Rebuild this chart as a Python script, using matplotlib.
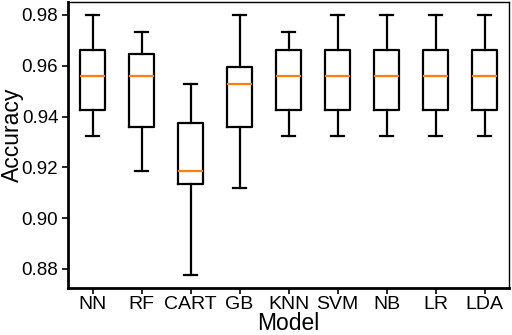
import matplotlib
matplotlib.use("Agg")
import matplotlib.pyplot as plt

plt.rcParams['font.family'] = ['Liberation Sans', 'DejaVu Sans']

models = ["NN", "RF", "CART", "GB", "KNN", "SVM", "NB", "LR", "LDA"]
whislo = [0.9323, 0.9186, 0.8778, 0.9118, 0.9323, 0.9323, 0.9323, 0.9323, 0.9323]
q1     = [0.9425, 0.9358, 0.9136, 0.9358, 0.9425, 0.9425, 0.9425, 0.9425, 0.9425]
med    = [0.9560, 0.9560, 0.9184, 0.9527, 0.9560, 0.9560, 0.9560, 0.9560, 0.9560]
q3     = [0.9663, 0.9647, 0.9374, 0.9595, 0.9663, 0.9663, 0.9663, 0.9663, 0.9663]
whishi = [0.9800, 0.9732, 0.9527, 0.9800, 0.9732, 0.9800, 0.9800, 0.9800, 0.9800]
yticks = [0.88, 0.90, 0.92, 0.94, 0.96, 0.98]

stats = [dict(label=m, whislo=a, q1=b, med=c, q3=d, whishi=e, fliers=[])
         for m, a, b, c, d, e in zip(models, whislo, q1, med, q3, whishi)]

fig = plt.figure(figsize=(5.12, 3.35), dpi=100)
ax = fig.add_axes([68/512, 1-288/335, (509-68)/512, (288-2)/335])
lw = 1.6
ax.bxp(stats, widths=0.5,
       boxprops=dict(color='black', linewidth=lw),
       whiskerprops=dict(color='black', linewidth=lw),
       capprops=dict(color='black', linewidth=lw),
       medianprops=dict(color='#ff7f0e', linewidth=1.6),
       showfliers=False)
ax.set_xlim(0.5, 9.5)
ax.set_ylim(0.8725, 0.9851)
ax.set_yticks(yticks)
ax.set_yticklabels([f"{t:.2f}" for t in yticks])
ax.tick_params(axis='both', direction='out', width=1.2, length=4, color='black', pad=3)
ax.tick_params(axis='y', labelsize=13.5)
ax.tick_params(axis='x', labelsize=14, pad=2)
ax.spines['left'].set_linewidth(2)
ax.spines['bottom'].set_linewidth(2)
ax.spines['top'].set_linewidth(1)
ax.spines['right'].set_linewidth(1)
ax.set_xlabel("Model", fontsize=16.5, labelpad=-1)
ax.set_ylabel("Accuracy", fontsize=16.5)
ax.yaxis.set_label_coords(-0.100, 0.535)
fig.savefig("out.png", dpi=100)
